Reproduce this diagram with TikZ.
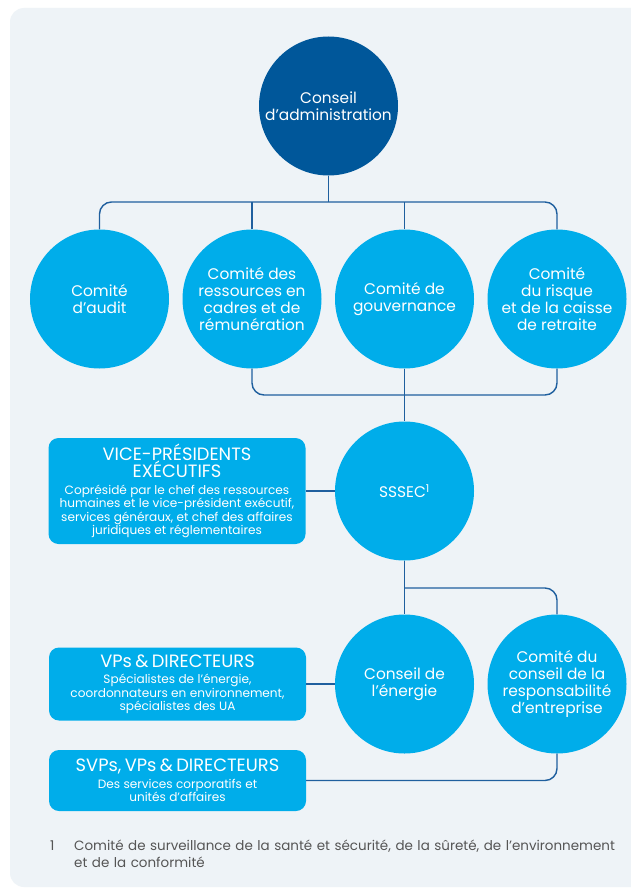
\documentclass[tikz,border=0pt]{standalone}
\usepackage{fontspec}
\setmainfont{Poppins}
\definecolor{navy}{HTML}{00579A}
\definecolor{cyanb}{HTML}{00ADEA}
\definecolor{linec}{HTML}{1F5F9E}
\definecolor{bgc}{HTML}{EEF3F7}
\definecolor{footc}{HTML}{555555}
\newlength{\mylen}
\newcommand{\fitsize}[3]{%
  \settowidth{\mylen}{\rmfamily\fontsize{10}{12}\selectfont #2}%
  \pgfmathsetmacro{#1}{10*#3/\mylen}}
\fitsize{\circsz}{d’administrationgouvernanceet de la caisseressources enrémunération}{553}
\fitsize{\titsz}{VICE-PRÉSIDENTSVPs \& DIRECTEURSSVPs, VPs \& DIRECTEURS}{514}
\fitsize{\subsz}{humaines et le vice-président exécutif,coordonnateurs en environnement,Coprésidé par le chef des ressources}{672}
\fitsize{\footsz}{Comité de surveillance de la santé et sécurité, de la sûreté, de l’environnement}{530}
\newcommand{\circf}{\fontsize{\circsz}{17}\selectfont}
\newcommand{\titf}{\fontsize{\titsz}{17}\selectfont}
\newcommand{\subf}{\fontsize{\subsz}{13.5}\selectfont}
\newcommand{\footf}{\fontsize{\footsz}{17.7}\selectfont}
\begin{document}
\begin{tikzpicture}[x=1pt,y=-1pt,
  circ/.style={circle, fill=cyanb, minimum size=139pt, inner sep=0pt, text=white, align=center, font=\circf},
  topc/.style={circ, fill=navy},
  boxn/.style={rounded corners=10pt, fill=cyanb, text=white, align=center, text width=254pt, minimum width=257pt, inner xsep=1.5pt, inner ysep=0pt},
  conn/.style={draw=linec, line width=1.4pt, rounded corners=12pt}]
\useasboundingbox (0,0) rectangle (631,888);
\fill[white] (0,0) rectangle (631,888);
\fill[bgc, rounded corners=14pt] (10,8) rectangle (660,887);
% coordinates for bars
\coordinate (topbar) at (0,202);
\coordinate (lowbar) at (0,395);
\coordinate (midbar) at (0,588);
% nodes
\node[topc] (ca) at (328.5,106) {Conseil\\d’administration};
\node[circ] (a1) at (99.5,299) {Comité\\d’audit};
\node[circ] (a2) at (252,299) {Comité des\\ressources en\\cadres et de\\rémunération};
\node[circ] (a3) at (404.5,299) {Comité de\\gouvernance};
\node[circ] (a4) at (557,299) {Comité\\du risque\\et de la caisse\\de retraite};
\node[circ] (ss) at (404.5,491) {SSSEC\textsuperscript{1}};
\node[circ] (e1) at (404.5,684) {Conseil de\\l’énergie};
\node[circ] (e2) at (557,684) {Comité du\\conseil de la\\responsabilité\\d’entreprise};
\node[boxn, minimum height=106pt] (vp) at (177,491) {{\titf VICE-PRÉSIDENTS\\EXÉCUTIFS\par}\vspace{3.5pt}{\subf Coprésidé par le chef des ressources\\humaines et le vice-président exécutif,\\services généraux, et chef des affaires\\juridiques et réglementaires\par}};
\node[boxn, minimum height=73pt] (vpd) at (177.5,684) {{\titf VPs \& DIRECTEURS\par}\vspace{3pt}{\subf Spécialistes de l’énergie,\\coordonnateurs en environnement,\\spécialistes des UA\par}};
\node[boxn, minimum height=61pt] (svp) at (177.5,780.5) {{\titf SVPs, VPs \& DIRECTEURS\par}\vspace{3pt}{\subf Des services corporatifs et\\unités d’affaires\par}};
% connectors
\draw[conn] (ca.south) -- (ca.south |- topbar);
\draw[conn] (a1.north) -- (a1.north |- topbar) -- (a4.north |- topbar) -- (a4.north);
\draw[conn] (a2.north) -- (a2.north |- topbar);
\draw[conn] (a3.north) -- (a3.north |- topbar);
\draw[conn] (a2.south) -- (a2.south |- lowbar) -- (a4.south |- lowbar) -- (a4.south);
\draw[conn] (a3.south) -- (ss.north);
\draw[conn] (vp.east) -- (ss.west);
\draw[conn] (ss.south) -- (e1.north);
\draw[conn] (ss.south |- midbar) -- (e2.north |- midbar) -- (e2.north);
\draw[conn] (vpd.east) -- (e1.west);
\draw[conn] (svp.east) -- (svp.east -| e2.south) -- (e2.south);
% footnote
\node[anchor=base west, text=footc, font=\footf, inner sep=0pt] (fn1) at (50,850) {1};
\node[anchor=north west, text=footc, font=\footf, inner sep=0pt, text width=556pt, align=left] (fn) at (74,839.5) {Comité de surveillance de la santé et sécurité, de la sûreté, de l’environnement\\et de la conformité};
\end{tikzpicture}
\end{document}
